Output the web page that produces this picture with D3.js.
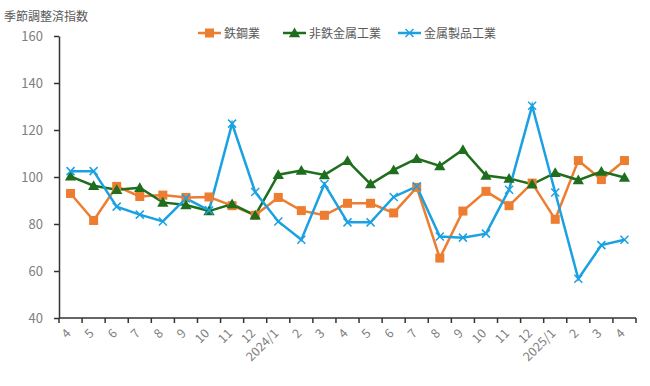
<!DOCTYPE html>
<html><head><meta charset="utf-8">
<script src="https://cdn.jsdelivr.net/npm/d3@7"></script>
<style>body{margin:0;background:#fff;} text{font-family:"Noto Sans CJK JP","Noto Sans",sans-serif;}</style>
</head><body>
<svg id="c" width="650" height="386"></svg>
<script>
const categories = ["4","5","6","7","8","9","10","11","12","2024/1","2","3","4","5","6","7","8","9","10","11","12","2025/1","2","3","4"];
const steel = [93.0,81.5,96.0,91.7,92.3,91.3,91.5,87.8,83.7,91.3,85.7,83.7,88.8,88.8,84.7,95.6,65.5,85.5,93.9,87.8,97.4,82.0,107.0,98.9,107.0];
const nonferrous = [100.3,96.3,94.6,95.4,89.2,88.1,85.5,88.5,83.7,101.0,102.8,100.9,106.9,97.0,103.0,107.8,104.7,111.6,100.6,99.4,96.9,101.8,98.7,102.3,99.8];
const metalProducts = [102.5,102.5,87.4,84.0,81.1,90.9,85.8,122.7,93.6,81.1,73.3,97.0,80.7,80.7,91.5,96.0,74.7,74.2,75.9,94.6,130.3,93.4,56.7,71.0,73.3];
const seriesNames = ["鉄鋼業","非鉄金属工業","金属製品工業"];
const yTicks = [40,60,80,100,120,140,160];
const colors = ["#ED7D31","#1E6E1E","#1BA1E2"];

const svg = d3.select("#c");
const L=59, R=636, T=36, B=318;
const x = d3.scaleBand().domain(d3.range(categories.length)).range([L,R]);
const y = d3.scaleLinear().domain([40,160]).range([B,T]);
const cx = i => x(i) + x.bandwidth()/2;

// y label
svg.append("text").attr("x",4).attr("y",21).attr("font-size",12).attr("fill","#595959").text("季節調整済指数");

// y axis
const ya = svg.append("g").attr("transform",`translate(${L},0)`).call(d3.axisLeft(y).tickValues(yTicks).tickSize(5).tickSizeOuter(0));
ya.select(".domain").attr("stroke","#333").attr("stroke-width",1.5);
ya.selectAll(".tick line").attr("stroke","#333").attr("stroke-width",1.5);
ya.selectAll(".tick text").attr("font-size",13).attr("fill","#808080").attr("x",-16).attr("font-family","\"Noto Sans\",sans-serif");

// x axis
const xa = svg.append("g").attr("transform",`translate(0,${B})`);
xa.append("line").attr("x1",L).attr("x2",R).attr("stroke","#333").attr("stroke-width",1.5);
const edges = d3.range(categories.length).map(i=>x(i)).concat([R]);
xa.selectAll("line.tk").data(edges).join("line").attr("class","tk")
  .attr("x1",d=>d).attr("x2",d=>d).attr("y1",0).attr("y2",5).attr("stroke","#333").attr("stroke-width",1.5);
xa.selectAll("text").data(categories).join("text")
  .attr("transform",(d,i)=>`translate(${cx(i)-2},13) rotate(-45)`)
  .attr("text-anchor","end").attr("dy","0.35em").attr("font-size",12.5).attr("fill","#808080")
  .attr("font-family","\"Noto Sans\",sans-serif")
  .text(d=>d);

const data = [steel, nonferrous, metalProducts];
const line = d3.line().x((d,i)=>cx(i)).y(d=>y(d));
data.forEach((s,k)=>{
  svg.append("path").datum(s).attr("d",line).attr("fill","none").attr("stroke",colors[k]).attr("stroke-width",2.5);
});
function marker(g,k,px,py){
  if(k===0){
    g.append("rect").attr("x",px-4.5).attr("y",py-4.5).attr("width",9).attr("height",9).attr("fill",colors[0]);
  } else if(k===1){
    g.append("path").attr("d",d3.symbol(d3.symbolTriangle,55)()).attr("transform",`translate(${px},${py+1})`).attr("fill",colors[1]);
  } else {
    g.append("path").attr("d",`M${px-4},${py-4}L${px+4},${py+4}M${px-4},${py+4}L${px+4},${py-4}`).attr("stroke",colors[2]).attr("stroke-width",1.5);
  }
}
data.forEach((s,k)=>{
  const g = svg.append("g");
  s.forEach((v,i)=>marker(g,k,cx(i),y(v)));
});

// legend
const legX = [198,283,398];
seriesNames.forEach((n,k)=>{
  const g = svg.append("g");
  g.append("line").attr("x1",legX[k]).attr("x2",legX[k]+23).attr("y1",33).attr("y2",33).attr("stroke",colors[k]).attr("stroke-width",2.5);
  marker(g,k,legX[k]+11.5,33);
  g.append("text").attr("x",legX[k]+26).attr("y",37.5).attr("font-size",12).attr("fill","#595959").text(n);
});
</script>
</body></html>
